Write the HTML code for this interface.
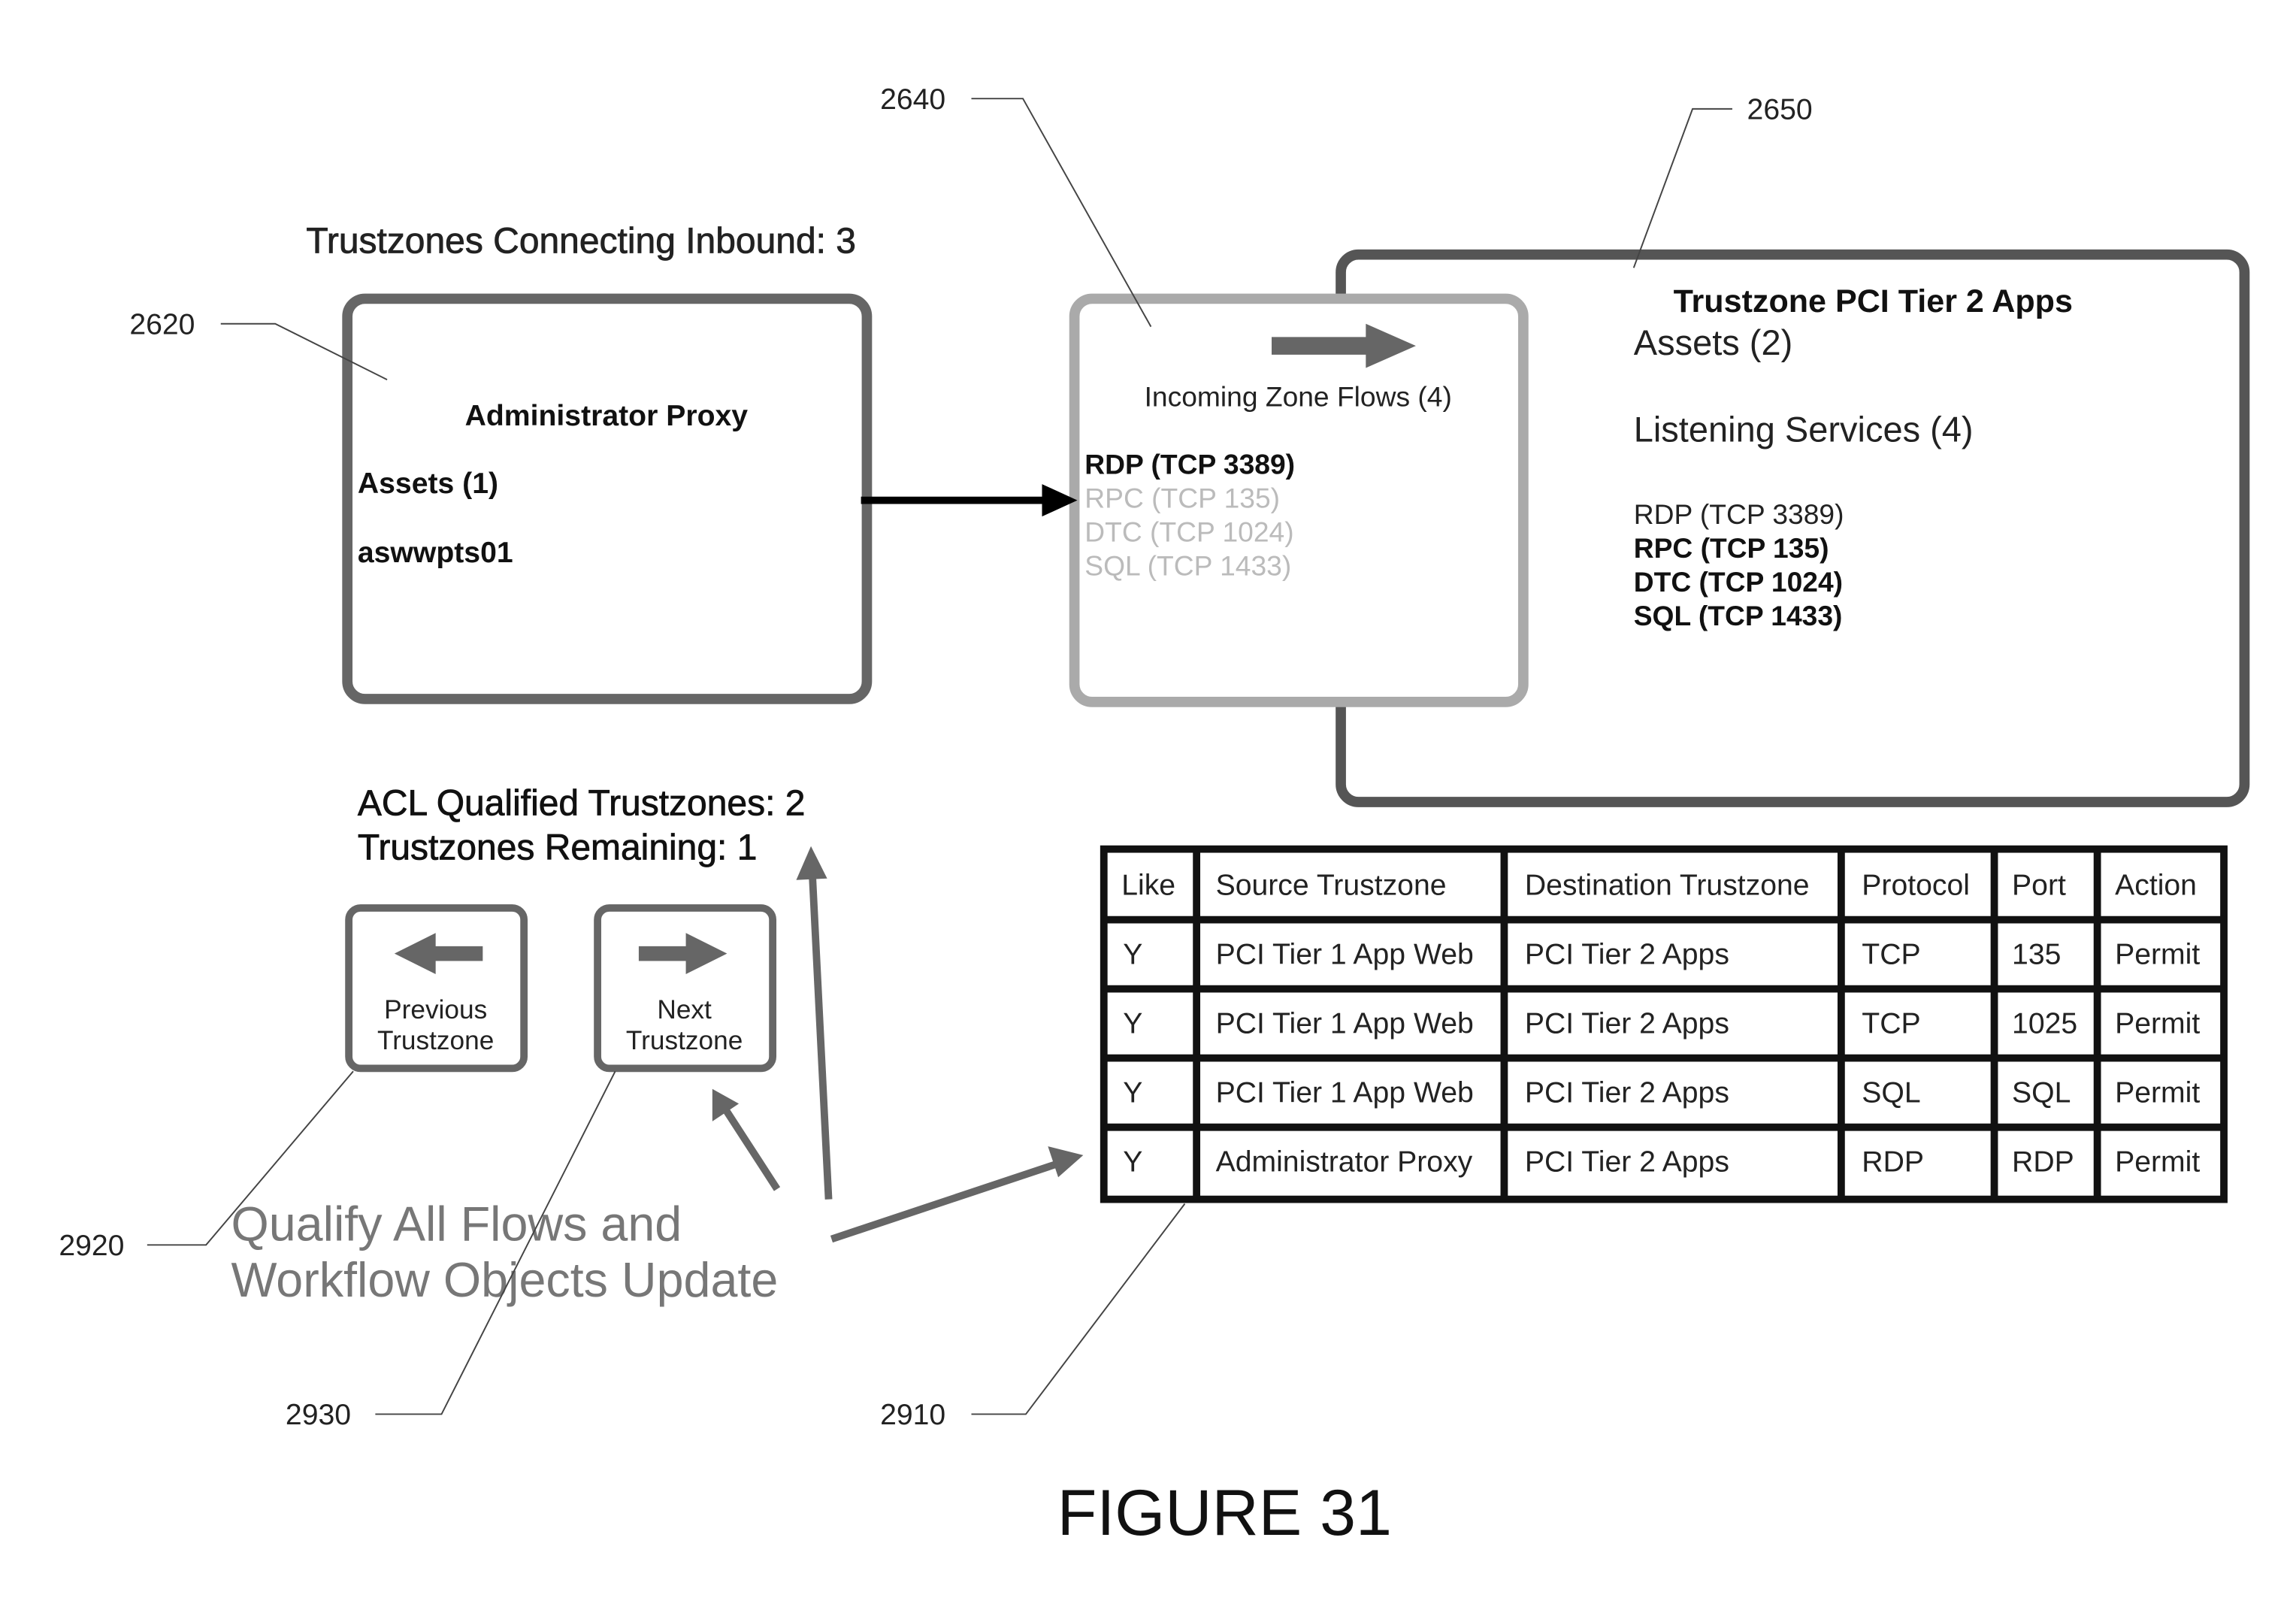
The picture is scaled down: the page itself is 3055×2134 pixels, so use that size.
<!DOCTYPE html>
<html><head><meta charset="utf-8"><style>
html,body{margin:0;padding:0;background:#fff;}
svg{display:block;}
text{font-family:"Liberation Sans",Arial,sans-serif;}
</style></head><body>
<svg width="3055" height="2134" viewBox="0 0 1560 1090" preserveAspectRatio="none" xmlns="http://www.w3.org/2000/svg">
<rect width="1560" height="1090" fill="#fff"/>
<rect x="911" y="173" width="614" height="372" rx="12" fill="#fff" stroke="#555" stroke-width="7"/>
<rect x="236" y="203" width="353" height="272" rx="12" fill="#fff" stroke="#666" stroke-width="7"/>
<rect x="730" y="203" width="305" height="274" rx="12" fill="#fff" stroke="#aaa" stroke-width="7"/>

<text x="208" y="172" font-size="24.5" fill="#222" stroke="#222" stroke-width="0.4">Trustzones Connecting Inbound: 3</text>
<text x="412" y="289" font-size="20" font-weight="bold" text-anchor="middle" fill="#111">Administrator Proxy</text>
<text x="243" y="335" font-size="20" font-weight="bold" fill="#111">Assets (1)</text>
<text x="243" y="382" font-size="20" font-weight="bold" fill="#111">aswwpts01</text>

<polygon points="864,229 928,229 928,220 962,235 928,250 928,241 864,241" fill="#666"/>
<text x="882" y="276" font-size="19" text-anchor="middle" fill="#222">Incoming Zone Flows (4)</text>
<text x="737" y="322" font-size="19" font-weight="bold" fill="#111">RDP (TCP 3389)</text>
<text x="737" y="345" font-size="19" fill="#bbb">RPC (TCP 135)</text>
<text x="737" y="368" font-size="19" fill="#bbb">DTC (TCP 1024)</text>
<text x="737" y="391" font-size="19" fill="#bbb">SQL (TCP 1433)</text>

<text x="1137" y="212" font-size="22" font-weight="bold" fill="#111">Trustzone PCI Tier 2 Apps</text>
<text x="1110" y="241" font-size="24" fill="#222">Assets (2)</text>
<text x="1110" y="300" font-size="24" fill="#222">Listening Services (4)</text>
<text x="1110" y="356" font-size="19" fill="#222">RDP (TCP 3389)</text>
<text x="1110" y="379" font-size="19" font-weight="bold" fill="#111">RPC (TCP 135)</text>
<text x="1110" y="402" font-size="19" font-weight="bold" fill="#111">DTC (TCP 1024)</text>
<text x="1110" y="425" font-size="19" font-weight="bold" fill="#111">SQL (TCP 1433)</text>

<line x1="585" y1="340" x2="712" y2="340" stroke="#000" stroke-width="5"/>
<polygon points="708,329 732,340 708,351" fill="#000"/>

<text x="243" y="554" font-size="24.5" fill="#111" stroke="#111" stroke-width="0.4">ACL Qualified Trustzones: 2</text>
<text x="243" y="584" font-size="24.5" fill="#111" stroke="#111" stroke-width="0.4">Trustzones Remaining: 1</text>

<rect x="237" y="617" width="119" height="109" rx="8" fill="#fff" stroke="#666" stroke-width="5"/>
<rect x="406" y="617" width="119" height="109" rx="8" fill="#fff" stroke="#666" stroke-width="5"/>
<polygon points="268,648 296,634 296,643 328,643 328,653 296,653 296,662" fill="#666"/>
<polygon points="494,648 466,634 466,643 434,643 434,653 466,653 466,662" fill="#666"/>
<text x="296" y="692" font-size="18" text-anchor="middle" fill="#222">Previous</text>
<text x="296" y="713" font-size="18" text-anchor="middle" fill="#222">Trustzone</text>
<text x="465" y="692" font-size="18" text-anchor="middle" fill="#222">Next</text>
<text x="465" y="713" font-size="18" text-anchor="middle" fill="#222">Trustzone</text>

<text x="157" y="843" font-size="33" fill="#777">Qualify All Flows and</text>
<text x="157" y="881" font-size="33" fill="#777">Workflow Objects Update</text>

<g stroke="#666" stroke-width="5" fill="none">
<line x1="565" y1="842" x2="718" y2="791"/>
<line x1="528" y1="808" x2="493" y2="754"/>
<line x1="563" y1="815" x2="552" y2="595"/>
</g>
<polygon points="736,785 712,779 719,800" fill="#666"/>
<polygon points="484,740 484,762 502,750" fill="#666"/>
<polygon points="551,575 541,598 562,597" fill="#666"/>

<g>
<rect x="750" y="577" width="761" height="238" fill="#fff" stroke="#111" stroke-width="5"/>
<g stroke="#111" stroke-width="5">
<line x1="813" y1="577" x2="813" y2="815"/>
<line x1="1022" y1="577" x2="1022" y2="815"/>
<line x1="1251" y1="577" x2="1251" y2="815"/>
<line x1="1355" y1="577" x2="1355" y2="815"/>
<line x1="1425" y1="577" x2="1425" y2="815"/>
<line x1="750" y1="625" x2="1511" y2="625"/>
<line x1="750" y1="672" x2="1511" y2="672"/>
<line x1="750" y1="719" x2="1511" y2="719"/>
<line x1="750" y1="766" x2="1511" y2="766"/>
</g>
<g font-size="20" fill="#222">
<text x="762" y="608">Like</text><text x="826" y="608">Source Trustzone</text><text x="1036" y="608">Destination Trustzone</text><text x="1265" y="608">Protocol</text><text x="1367" y="608">Port</text><text x="1437" y="608">Action</text>
<text x="763" y="655">Y</text><text x="826" y="655">PCI Tier 1 App Web</text><text x="1036" y="655">PCI Tier 2 Apps</text><text x="1265" y="655">TCP</text><text x="1367" y="655">135</text><text x="1437" y="655">Permit</text>
<text x="763" y="702">Y</text><text x="826" y="702">PCI Tier 1 App Web</text><text x="1036" y="702">PCI Tier 2 Apps</text><text x="1265" y="702">TCP</text><text x="1367" y="702">1025</text><text x="1437" y="702">Permit</text>
<text x="763" y="749">Y</text><text x="826" y="749">PCI Tier 1 App Web</text><text x="1036" y="749">PCI Tier 2 Apps</text><text x="1265" y="749">SQL</text><text x="1367" y="749">SQL</text><text x="1437" y="749">Permit</text>
<text x="763" y="796">Y</text><text x="826" y="796">Administrator Proxy</text><text x="1036" y="796">PCI Tier 2 Apps</text><text x="1265" y="796">RDP</text><text x="1367" y="796">RDP</text><text x="1437" y="796">Permit</text>
</g>
</g>

<g stroke="#444" stroke-width="1" fill="none">
<polyline points="660,67 695,67 782,222"/>
<polyline points="1177,74 1150,74 1110,182"/>
<polyline points="150,220 187,220 263,258"/>
<polyline points="100,846 140,846 240,728"/>
<polyline points="255,961 300,961 418,728"/>
<polyline points="660,961 697,961 805,818"/>
</g>
<g font-size="20" fill="#222">
<text x="598" y="74">2640</text>
<text x="1187" y="81">2650</text>
<text x="88" y="227">2620</text>
<text x="40" y="853">2920</text>
<text x="194" y="968">2930</text>
<text x="598" y="968">2910</text>
</g>
<text x="832" y="1043" font-size="44" text-anchor="middle" fill="#111">FIGURE 31</text>
</svg>
</body></html>
